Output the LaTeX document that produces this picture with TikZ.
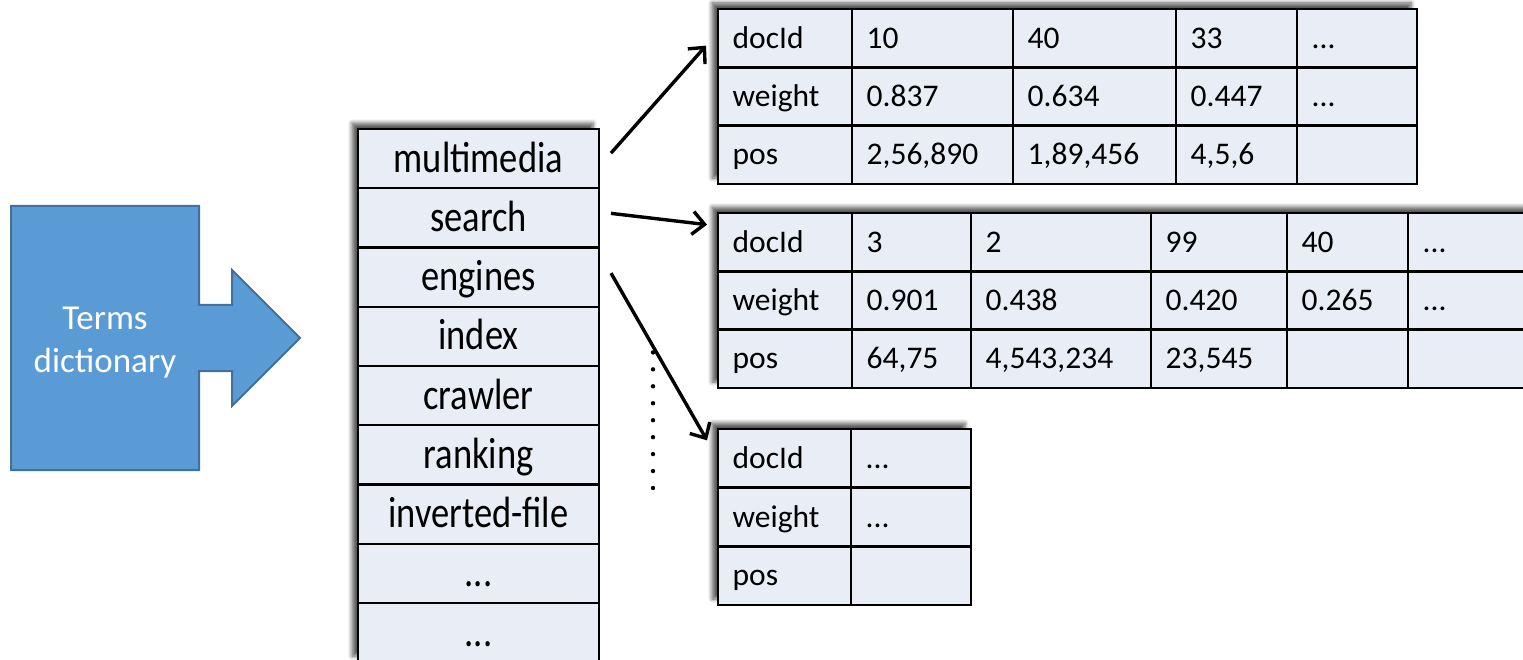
\documentclass[tikz,border=0pt]{standalone}
\usepackage{fontspec}
\usepackage{graphicx}
\setmainfont{Carlito}
\usetikzlibrary{arrows.meta,shadows.blur}

\definecolor{cellfill}{HTML}{E9EDF6}
\definecolor{dictfill}{HTML}{5B9BD5}
\definecolor{dictedge}{HTML}{41719C}

\tikzset{
  cellbox/.style={draw=black, line width=2.4pt, fill=cellfill, rectangle,
    anchor=north west, inner sep=0pt, outer sep=0pt},
  celltext/.style={anchor=base west, inner sep=0pt,
    font=\fontsize{31.5}{37}\selectfont},
  termtext/.style={anchor=base, inner sep=0pt,
    font=\fontsize{36.5}{44}\selectfont},
  tabshadow/.style={fill=cellfill, blur shadow={shadow xshift=-6pt,
    shadow yshift=6pt, shadow blur radius=4pt, shadow blur steps=6,
    shadow opacity=65}},
  conn/.style={line width=3.4pt, -{Straight Barb[length=12pt,width=23pt]}},
}

% one table cell: name, x, y (top-left), width, height, text
\newcommand\tabcell[6]{%
  \node[cellbox, minimum width=#4pt, minimum height=#5pt] (#1) at (#2,#3) {};
  \node[celltext] (#1-t) at ([xshift=14.5pt,yshift=-10pt]#1.west) {#6};}

% one row of the term list: name, y (top), text
\newcommand\termrow[3]{%
  \node[cellbox, minimum width=241pt, minimum height=59.25pt] (#1) at (358,#2) {};
  \node[termtext] (#1-t) at ([yshift=-13.5pt]#1.center) {\scalebox{1}[1.2]{#3}};}

\begin{document}
\begin{tikzpicture}[x=1pt,y=-1pt]
\useasboundingbox (0,0) rectangle (1523,660);

% terms dictionary block arrow
\draw[fill=dictfill, draw=dictedge, line width=2pt, line join=miter]
  (11,206) -- (199,206) -- (199,305) -- (232,305) -- (232,270) -- (300,338)
  -- (232,406) -- (232,371) -- (199,371) -- (199,470) -- (11,470) -- cycle;
\node[align=center, text=white, font=\fontsize{35}{43}\selectfont] (dict)
  at (105,343) {Terms\\dictionary};

% term list
\path[tabshadow] (358,129) rectangle (599,662);
\termrow{w1}{129}{multimedia}
\termrow{w2}{188.25}{search}
\termrow{w3}{247.5}{engines}
\termrow{w4}{306.75}{index}
\termrow{w5}{366}{crawler}
\termrow{w6}{425.25}{ranking}
\termrow{w7}{484.5}{inverted-file}
\termrow{w8}{543.75}{...}
\termrow{w9}{603}{...}

% posting list of "multimedia"
\path[tabshadow] (718,9) rectangle (1417,184);
\tabcell{a00}{718}{9}{134}{58.33}{docId}
\tabcell{a01}{852}{9}{161}{58.33}{10}
\tabcell{a02}{1013}{9}{163}{58.33}{40}
\tabcell{a03}{1176}{9}{121}{58.33}{33}
\tabcell{a04}{1297}{9}{120}{58.33}{...}
\tabcell{a10}{718}{67.33}{134}{58.33}{weight}
\tabcell{a11}{852}{67.33}{161}{58.33}{0.837}
\tabcell{a12}{1013}{67.33}{163}{58.33}{0.634}
\tabcell{a13}{1176}{67.33}{121}{58.33}{0.447}
\tabcell{a14}{1297}{67.33}{120}{58.33}{...}
\tabcell{a20}{718}{125.67}{134}{58.33}{pos}
\tabcell{a21}{852}{125.67}{161}{58.33}{2,56,890}
\tabcell{a22}{1013}{125.67}{163}{58.33}{1,89,456}
\tabcell{a23}{1176}{125.67}{121}{58.33}{4,5,6}
\tabcell{a24}{1297}{125.67}{120}{58.33}{}

% posting list of "search"
\path[tabshadow] (718,213) rectangle (1545,388);
\tabcell{b00}{718}{213}{134}{58.33}{docId}
\tabcell{b01}{852}{213}{119}{58.33}{3}
\tabcell{b02}{971}{213}{180}{58.33}{2}
\tabcell{b03}{1151}{213}{136}{58.33}{99}
\tabcell{b04}{1287}{213}{121}{58.33}{40}
\tabcell{b05}{1408}{213}{137}{58.33}{...}
\tabcell{b10}{718}{271.33}{134}{58.33}{weight}
\tabcell{b11}{852}{271.33}{119}{58.33}{0.901}
\tabcell{b12}{971}{271.33}{180}{58.33}{0.438}
\tabcell{b13}{1151}{271.33}{136}{58.33}{0.420}
\tabcell{b14}{1287}{271.33}{121}{58.33}{0.265}
\tabcell{b15}{1408}{271.33}{137}{58.33}{...}
\tabcell{b20}{718}{329.67}{134}{58.33}{pos}
\tabcell{b21}{852}{329.67}{119}{58.33}{64,75}
\tabcell{b22}{971}{329.67}{180}{58.33}{4,543,234}
\tabcell{b23}{1151}{329.67}{136}{58.33}{23,545}
\tabcell{b24}{1287}{329.67}{121}{58.33}{}
\tabcell{b25}{1408}{329.67}{137}{58.33}{}

% posting list of "engines"
\path[tabshadow] (718,429) rectangle (971,605);
\tabcell{c00}{718}{429}{133}{58.67}{docId}
\tabcell{c01}{851}{429}{120}{58.67}{...}
\tabcell{c10}{718}{487.67}{133}{58.67}{weight}
\tabcell{c11}{851}{487.67}{120}{58.67}{...}
\tabcell{c20}{718}{546.33}{133}{58.67}{pos}
\tabcell{c21}{851}{546.33}{120}{58.67}{}

% dotted continuation
\foreach \k in {0,...,8}
  \fill (653,352.4+16.95*\k) circle (2.2pt);

% term -> posting list pointers
\draw[conn] ([shift={(12,-5.5)}]w1.east) -- ([shift={(-12,7.5)}]a00.west);
\draw[conn] ([shift={(12,-4.5)}]w2.east) -- ([shift={(-11,-17.5)}]b00.west);
\draw[conn] ([shift={(12,-4)}]w3.east) -- ([shift={(-11,-18)}]c00.west);
\end{tikzpicture}
\end{document}
